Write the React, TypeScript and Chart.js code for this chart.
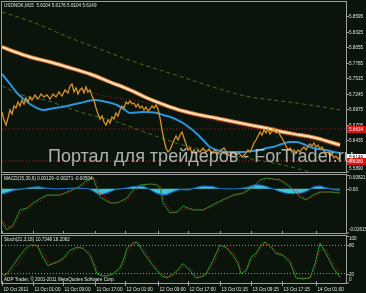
import React, { useEffect, useRef } from "react";
import { Chart, registerables } from "chart.js";
Chart.register(...registerables);

// ---------- texts ----------
const SYMBOL_TITLE = "USDNOK,M15  5.6104 5.6176 5.6104 5.6149";
const MACD_TITLE = "MACD(15,30,6) 0.00129 -0.00271 -0.00504";
const STOCH_TITLE = "Stoch(21,3,18) 10.7348 18.2062";
const COPYRIGHT = "ADP Trader, \u00a9 2001-2011 MetaQuotes Software Corp.";
const WATERMARK = "Портал для трейдеров - ForTrader.ru";

// ---------- time axis (bar index of M15 bars) ----------
const BAR_MIN = 0;
const BAR_MAX = 344;
const timeTickBars = [0, 31, 61, 93, 123, 156, 186, 218, 249, 280, 314];
const timeTickLabels = [
  "10 Oct 2011", "11 Oct 01:00", "11 Oct 09:00", "11 Oct 17:00", "12 Oct 01:00",
  "12 Oct 09:00", "12 Oct 17:00", "13 Oct 01:15", "13 Oct 09:15", "13 Oct 17:15", "14 Oct 01:00",
];

// ---------- price panel ----------
const priceMin = 5.5888;
const priceMax = 5.8837;
const priceTicks = [5.8595, 5.8325, 5.8055, 5.7785, 5.7515, 5.7245, 5.6975, 5.6705, 5.6435, 5.6165, 5.589];
const lastPrice = 5.6149;
const levelValues = [5.6634, 5.608];

const priceSeries: [number, number][] = [
  [0,5.6929],[2,5.6790],[4,5.6703],[6,5.6825],[8,5.6964],[10,5.6894],[12,5.7033],[14,5.6998],[16,5.7102],[18,5.7033],
  [20,5.7137],[22,5.7068],[24,5.7172],[26,5.7102],[28,5.7189],[30,5.7137],[33,5.7224],[36,5.7154],[39,5.7241],[42,5.7189],
  [45,5.7224],[48,5.7154],[51,5.7241],[54,5.7189],[57,5.7276],[60,5.7206],[63,5.7311],[66,5.7259],[68,5.7380],[70,5.7415],
  [72,5.7276],[74,5.7345],[76,5.7241],[78,5.7311],[80,5.7345],[82,5.7259],[84,5.7363],[86,5.7276],[88,5.7311],[90,5.7206],
  [92,5.7137],[94,5.6998],[96,5.6894],[98,5.6807],[100,5.6859],[102,5.6755],[104,5.6703],[106,5.6790],[108,5.6738],[110,5.6842],
  [112,5.6807],[114,5.6912],[116,5.6859],[118,5.6964],[120,5.7033],[122,5.6998],[124,5.7102],[126,5.7068],[128,5.7120],[130,5.7068],
  [132,5.7085],[134,5.7016],[136,5.7068],[138,5.6998],[140,5.7033],[142,5.6964],[144,5.7016],[146,5.6946],[148,5.6981],[150,5.7033],
  [152,5.6998],[154,5.7050],[156,5.6981],[158,5.6825],[160,5.6617],[162,5.6443],[164,5.6304],[166,5.6235],[168,5.6270],[170,5.6356],
  [172,5.6443],[174,5.6512],[176,5.6443],[178,5.6530],[180,5.6582],[182,5.6478],[184,5.6374],[186,5.6270],[188,5.6304],[190,5.6218],
  [192,5.6270],[194,5.6200],[196,5.6270],[198,5.6235],[201,5.6304],[204,5.6235],[207,5.6287],[210,5.6218],[213,5.6270],[216,5.6200],
  [219,5.6270],[222,5.6304],[225,5.6218],[228,5.6166],[231,5.6235],[234,5.6183],[237,5.6218],[240,5.6149],[243,5.6200],[246,5.6270],
  [248,5.6235],[250,5.6304],[252,5.6391],[254,5.6443],[256,5.6512],[258,5.6582],[260,5.6530],[262,5.6617],[264,5.6565],[266,5.6634],
  [268,5.6547],[270,5.6599],[272,5.6651],[274,5.6565],[276,5.6599],[278,5.6530],[280,5.6478],[282,5.6408],[284,5.6339],[286,5.6270],
  [288,5.6304],[290,5.6235],[292,5.6270],[294,5.6218],[296,5.6270],[298,5.6235],[300,5.6287],[302,5.6322],[304,5.6270],[306,5.6339],
  [308,5.6374],[310,5.6339],[312,5.6391],[314,5.6322],[316,5.6356],[318,5.6287],[320,5.6322],[322,5.6252],[324,5.6218],[326,5.6235],
  [328,5.6166],[330,5.6200],[332,5.6131],[334,5.6166],[336,5.6114],[338,5.6149],
];

const slowMaSeries: [number, number][] = [
  [0,5.8057],[13,5.7970],[28,5.7883],[48,5.7796],[65,5.7710],[88,5.7588],[108,5.7449],[128,5.7311],[145,5.7172],[163,5.7050],
  [181,5.6946],[198,5.6877],[214,5.6825],[233,5.6755],[248,5.6703],[264,5.6651],[281,5.6582],[298,5.6530],[314,5.6478],[328,5.6408],[338,5.6356],
];

const fastMaSeries: [number, number][] = [
  [0,5.7588],[8,5.7415],[16,5.7241],[23,5.7137],[31,5.7033],[41,5.6964],[53,5.6998],[65,5.7033],[78,5.7085],[93,5.7137],
  [105,5.7102],[115,5.7050],[123,5.6964],[128,5.6912],[141,5.6929],[155,5.6912],[161,5.6877],[171,5.6825],[181,5.6738],[188,5.6651],
  [194,5.6565],[201,5.6443],[208,5.6322],[218,5.6252],[230,5.6235],[241,5.6235],[250,5.6252],[258,5.6270],[265,5.6304],[271,5.6322],
  [280,5.6374],[288,5.6408],[294,5.6408],[301,5.6374],[308,5.6322],[316,5.6287],[324,5.6270],[332,5.6235],[338,5.6218],
];

const dottedMaSeries: [number, number][] = [
  [68,5.7363],[98,5.7224],[128,5.7137],[155,5.7050],[181,5.6912],[218,5.6755],[258,5.6617],[298,5.6478],[338,5.6322],
];

const upperBandSeries: [number, number][] = [
  [0,5.8664],[33,5.8473],[66,5.8230],[100,5.8005],[133,5.7796],[183,5.7519],[214,5.7345],[248,5.7189],[271,5.7137],[308,5.7050],[338,5.6964],
];

const lowerBandSeries: [number, number][] = [
  [0,5.7380],[20,5.7224],[43,5.7137],[78,5.6929],[115,5.6755],[148,5.6547],[181,5.6356],[228,5.6183],[281,5.6009],[308,5.5888],[338,5.5749],
];

// ---------- MACD panel ----------
const macdMin = -0.02615;
const macdMax = 0.00821;
const macdTicks = [0.00821, 0, -0.02615];
const macdTickLabels = ["0.00821", "0.00", "-0.02615"];
const macdBars = [0,5,11,18,25,31,41,45,58,65,75,83,91,94,98,108,115,125,131,138,148,155,158,161,168,175,181,191,201,214,231,241,251,258,264,278,288,298,304,311,318,328,338];
const macdMain = [-0.01963,-0.02437,-0.02141,-0.01252,-0.01134,-0.00838,-0.00482,-0.00364,-0.00364,-0.00186,0.00051,0.00406,0.00703,0.00169,-0.00482,-0.00838,-0.00838,-0.00541,-0.00068,0.00229,0.00288,0.00229,0.00051,-0.00838,-0.0143,-0.01371,-0.01015,-0.01252,-0.01252,-0.00838,-0.00364,-0.00245,0.0011,0.00525,0.00643,0.00525,0.0011,-0.00482,-0.0066,-0.00364,-0.00186,-0.00186,-0.00245];
const macdSignal = [-0.01845,-0.022,-0.02319,-0.01489,-0.01193,-0.00956,-0.00601,-0.00423,-0.00364,-0.00245,-0.00008,0.00288,0.00643,0.00525,-0.00186,-0.00778,-0.00838,-0.0066,-0.00245,0.0011,0.00288,0.00288,0.00169,-0.00482,-0.01252,-0.0143,-0.01193,-0.01193,-0.01252,-0.00956,-0.00423,-0.00305,-0.00008,0.00347,0.00584,0.00584,0.00229,-0.00305,-0.00601,-0.00482,-0.00245,-0.00186,-0.00186];
const macdHistSeries: [number, number][] = [
  [0,-0.0030],[6,-0.0020],[12,-0.0008],[20,-0.0002],[28,0.0008],[36,0.0012],[44,0.0004],[54,0.0000],[64,0.0002],[74,0.0004],
  [84,0.0002],[90,-0.0008],[98,-0.0034],[106,-0.0022],[114,-0.0004],[124,0.0004],[132,0.0014],[140,0.0016],[146,0.0002],[154,-0.0024],
  [162,-0.0036],[170,-0.0020],[178,-0.0004],[186,-0.0006],[194,0.0008],[202,0.0016],[210,0.0014],[218,0.0002],[228,0.0000],[238,0.0002],
  [246,0.0010],[254,0.0024],[262,0.0018],[270,0.0002],[278,-0.0016],[288,-0.0028],[298,-0.0026],[306,-0.0010],[312,0.0012],[318,0.0016],
  [324,0.0006],[332,-0.0004],[338,-0.0006],
];

// ---------- Stochastic panel ----------
const stochTicks = [100, 80, 20, 0];
const stochLevels = [80, 20];
const stochBars = [1,5,11,18,23,28,35,41,46,51,56,61,68,75,81,88,92,95,100,105,111,118,122,125,131,135,140,145,150,155,160,165,170,175,181,188,194,199,204,211,218,224,231,236,239,244,249,254,259,263,269,274,281,288,294,301,308,313,318,324,331,338];
const stochK = [15.2,19.6,37,58.7,71.7,80.4,80.4,54.3,37,41.3,45.7,52.2,69.6,76.1,73.9,58.7,37,19.6,15.2,15.2,19.6,32.6,52.2,73.9,84.8,87,69.6,54.3,39.1,26.1,15.2,10.9,17.4,26.1,41.3,26.1,10.9,13,19.6,47.8,80.4,76.1,58.7,41.3,19.6,26.1,54.3,63,80.4,87,76.1,63,58.7,43.5,10.9,8.7,10.9,41.3,84.8,63,32.6,12];
const stochD = [18,17,28,48,64,75,80,66,46,40,43,49,62,74,75,65,48,28,17,15,17,27,43,63,80,86,77,62,46,32,20,13,14,22,35,32,17,12,17,38,70,78,66,49,30,24,45,59,74,84,80,68,60,49,22,11,10,30,70,72,42,18];

// ---------- styles ----------
const BG = "#0a140a";
const FRAME = "#a0a0a0";
const TEXT = "#e2e2e2";
const FONT = '4.6px "Liberation Sans", Arial, sans-serif';

const pts = (s: [number, number][]) => s.map(([x, y]) => ({ x, y }));
const zipPts = (xs: number[], ys: number[]) => xs.map((x, i) => ({ x, y: ys[i] }));
const levelPts = (v: number) => [{ x: BAR_MIN, y: v }, { x: BAR_MAX, y: v }];

type Tag = { value: number; text: string; bg: string; fg: string };
type DecorOpts = {
  title: string;
  footer?: string;
  ticks: number[];
  labels: string[];
  tags?: Tag[];
  timeAxis?: boolean;
  innerTicks?: boolean;
};

function decor(o: DecorOpts) {
  return {
    id: "panelDecor",
    afterDatasetsDraw(chart: any) {
      const { ctx, chartArea: a } = chart;
      const xs = chart.scales.x;
      const ys = chart.scales.y;
      ctx.save();
      ctx.strokeStyle = FRAME;
      ctx.lineWidth = 1;
      ctx.strokeRect(a.left - 0.5, a.top - 0.5, a.right - a.left + 1, a.bottom - a.top + 1);
      ctx.font = FONT;
      ctx.fillStyle = TEXT;
      ctx.textBaseline = "middle";
      ctx.textAlign = "left";
      ctx.fillText(o.title, a.left + 2, a.top + 3.5);
      if (o.footer) ctx.fillText(o.footer, a.left + 2, a.bottom - 3.5);
      o.ticks.forEach((t, i) => {
        const py = Math.round(ys.getPixelForValue(t)) + 0.5;
        const ty = Math.min(Math.max(py, a.top + 3), a.bottom - 3);
        const ly = Math.min(Math.max(py, a.top), a.bottom);
        ctx.beginPath();
        ctx.moveTo(a.right, ly);
        ctx.lineTo(a.right + 3, ly);
        ctx.stroke();
        ctx.fillText(o.labels[i], a.right + 3, ty);
      });
      (o.tags || []).forEach((tg) => {
        const py = Math.round(ys.getPixelForValue(tg.value));
        ctx.fillStyle = tg.bg;
        ctx.fillRect(a.right + 1, py - 3, 20, 7);
        ctx.fillStyle = tg.fg;
        ctx.fillText(tg.text, a.right + 3, py + 0.5);
      });
      ctx.fillStyle = TEXT;
      if (o.innerTicks || o.timeAxis) {
        timeTickBars.forEach((b, i) => {
          const px = Math.round(xs.getPixelForValue(b)) + 0.5;
          ctx.strokeStyle = FRAME;
          ctx.beginPath();
          ctx.moveTo(px, a.bottom - 2);
          ctx.lineTo(px, a.bottom);
          ctx.stroke();
          if (o.timeAxis) {
            ctx.beginPath();
            ctx.moveTo(px, a.bottom);
            ctx.lineTo(px, a.bottom + 3);
            ctx.stroke();
            ctx.fillText(timeTickLabels[i], px + 1, a.bottom + 6.5);
          }
        });
      }
      ctx.restore();
    },
  };
}

function baseOptions(padding: any, yMin: number, yMax: number) {
  return {
    responsive: false,
    maintainAspectRatio: false,
    devicePixelRatio: 1,
    animation: false as const,
    events: [] as any[],
    layout: { padding },
    plugins: { legend: { display: false }, tooltip: { enabled: false } },
    elements: { point: { radius: 0 } },
    scales: {
      x: { type: "linear" as const, display: false, min: BAR_MIN, max: BAR_MAX },
      y: { type: "linear" as const, display: false, min: yMin, max: yMax },
    },
  };
}

function line(data: any[], color: string, width: number, extra: any = {}) {
  return { data, borderColor: color, borderWidth: width, pointRadius: 0, fill: false, tension: 0, ...extra };
}

export default function App() {
  const mainRef = useRef<HTMLCanvasElement>(null);
  const macdRef = useRef<HTMLCanvasElement>(null);
  const stochRef = useRef<HTMLCanvasElement>(null);

  useEffect(() => {
    const main = new Chart(mainRef.current!, {
      type: "line",
      data: {
        datasets: [
          line(pts(priceSeries), "#d8902c", 1.3, { order: 0 }),
          line(pts(fastMaSeries), "#2a95dc", 2, { order: 1, cubicInterpolationMode: "monotone" }),
          line(pts(slowMaSeries), "#fbe4bd", 2, { order: 2, cubicInterpolationMode: "monotone" }),
          line(pts(slowMaSeries), "#d8742a", 4, { order: 3, cubicInterpolationMode: "monotone" }),
          line(pts(dottedMaSeries), "#b01848", 1, { order: 4, borderDash: [1, 2], cubicInterpolationMode: "monotone" }),
          line(pts(upperBandSeries), "#4f6b22", 1, { order: 5, borderDash: [4, 3], cubicInterpolationMode: "monotone" }),
          line(pts(lowerBandSeries), "#4f6b22", 1, { order: 6, borderDash: [4, 3], cubicInterpolationMode: "monotone" }),
          ...levelValues.map((v, i) => line(levelPts(v), "#b41c2c", 1, { order: 7 + i, borderDash: [1, 2] })),
        ],
      },
      options: baseOptions({ left: 2, right: 20, top: 2, bottom: 1 }, priceMin, priceMax) as any,
      plugins: [
        decor({
          title: SYMBOL_TITLE,
          ticks: priceTicks,
          labels: priceTicks.map((t) => t.toFixed(4)),
          tags: [
            { value: levelValues[0], text: levelValues[0].toFixed(4), bg: "#e01010", fg: "#ffffff" },
            { value: lastPrice, text: lastPrice.toFixed(4), bg: "#ffffff", fg: "#000000" },
            { value: levelValues[1], text: levelValues[1].toFixed(4), bg: "#e01010", fg: "#ffffff" },
          ],
        }),
      ],
    });

    const macd = new Chart(macdRef.current!, {
      type: "line",
      data: {
        datasets: [
          line(zipPts(macdBars, macdSignal), "#d02828", 1, { order: 0, borderDash: [1, 2] }),
          line(zipPts(macdBars, macdMain), "#2e8b2e", 1, { order: 1 }),
          line(pts(macdHistSeries), "#1f6cc8", 1.2, {
            order: 2,
            fill: "origin",
            backgroundColor: "#3cc6da",
            cubicInterpolationMode: "monotone",
          }),
        ],
      },
      options: baseOptions({ left: 2, right: 20, top: 2, bottom: 2 }, macdMin, macdMax) as any,
      plugins: [decor({ title: MACD_TITLE, ticks: macdTicks, labels: macdTickLabels, innerTicks: true })],
    });

    const stoch = new Chart(stochRef.current!, {
      type: "line",
      data: {
        datasets: [
          line(zipPts(stochBars, stochD), "#d02828", 1, { order: 0, borderDash: [1, 2] }),
          line(zipPts(stochBars, stochK), "#2e9a2e", 1, { order: 1 }),
          ...stochLevels.map((v, i) => line(levelPts(v), "#9a9a9a", 1, { order: 2 + i, borderDash: [1, 2] })),
        ],
      },
      options: baseOptions({ left: 2, right: 20, top: 1, bottom: 10 }, 0, 100) as any,
      plugins: [
        decor({
          title: STOCH_TITLE,
          footer: COPYRIGHT,
          ticks: stochTicks,
          labels: stochTicks.map((t) => String(t)),
          timeAxis: true,
        }),
      ],
    });

    return () => {
      main.destroy();
      macd.destroy();
      stoch.destroy();
    };
  }, []);

  const cv = (top: number, h: number): React.CSSProperties => ({
    position: "absolute",
    left: 0,
    top,
    width: 366,
    height: h,
    display: "block",
  });

  return (
    <div style={{ position: "fixed", left: 0, top: 0, width: 366, height: 293, background: BG, overflow: "hidden" }}>
      <canvas ref={mainRef} width={366} height={173} style={cv(0, 173)} />
      <canvas ref={macdRef} width={366} height={62} style={cv(173, 62)} />
      <canvas ref={stochRef} width={366} height={58} style={cv(235, 58)} />
      <div
        style={{
          position: "absolute",
          left: 48,
          top: 147,
          fontFamily: '"Liberation Sans", Arial, sans-serif',
          fontSize: 18,
          lineHeight: "18px",
          letterSpacing: "0px",
          color: "rgba(205,205,205,0.85)",
          whiteSpace: "nowrap",
          pointerEvents: "none",
        }}
      >
        {WATERMARK}
      </div>
    </div>
  );
}
